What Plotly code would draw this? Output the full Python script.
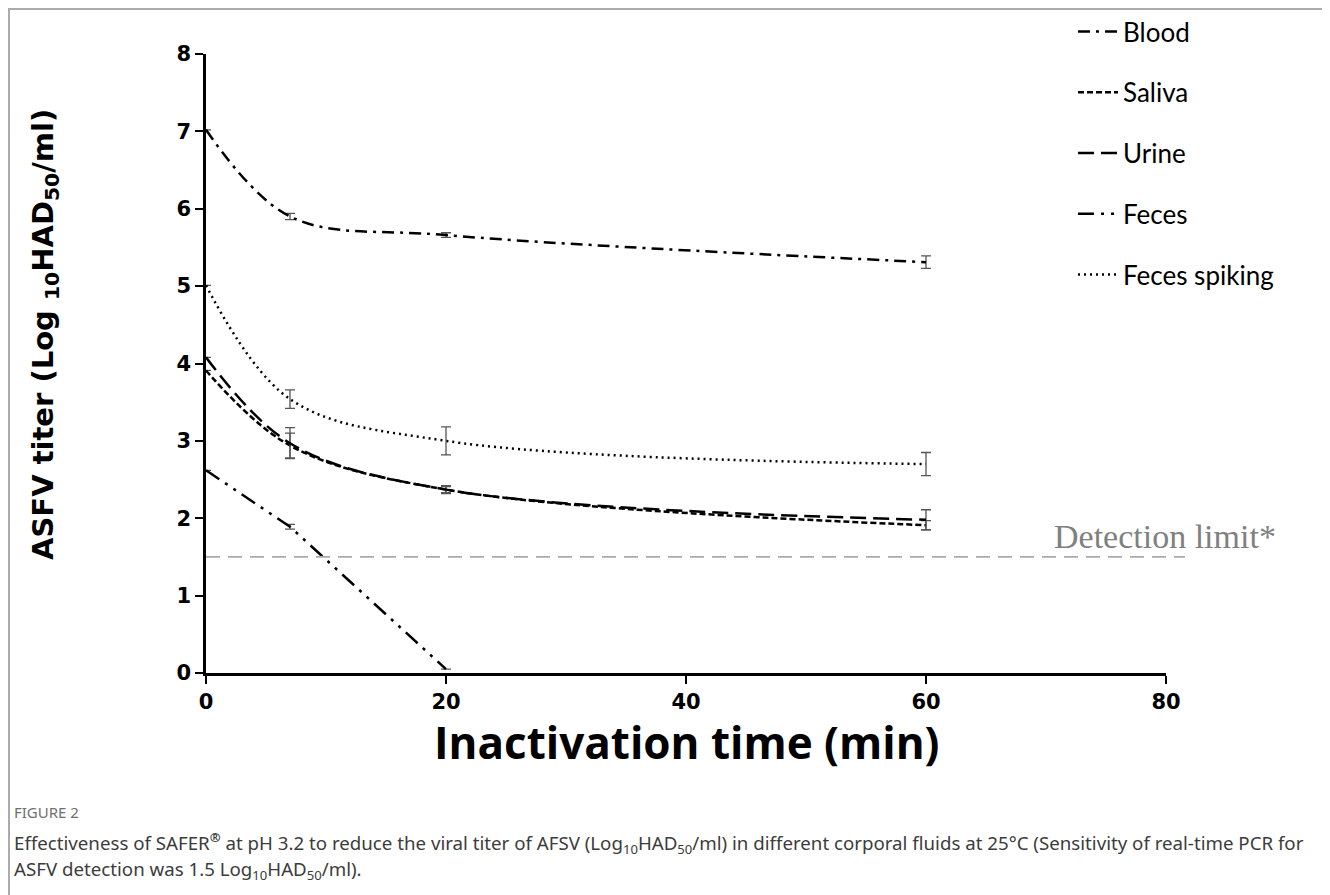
import plotly.graph_objects as go

# ---------------- data ----------------
time_min = [0, 7, 20, 60]
blood = [7.02, 5.90, 5.66, 5.31]
blood_err = [None, 0.04, 0.03, 0.08]
saliva = [3.91, 2.94, 2.37, 1.91]
saliva_err = [None, 0.16, 0.05, 0.06]
urine = [4.08, 2.97, 2.37, 1.98]
urine_err = [None, 0.20, 0.04, 0.13]
feces_time = [0, 7, 20]
feces = [2.62, 1.89, 0.05]
feces_err = [None, 0.03, None]
spiking = [5.01, 3.54, 3.00, 2.70]
spiking_err = [None, 0.12, 0.18, 0.15]
detection_limit = 1.5
x_ticks = [0, 20, 40, 60, 80]
y_ticks = [0, 1, 2, 3, 4, 5, 6, 7, 8]

# ---------------- layout geometry ----------------
# page body has an 8px margin, so the figure is drawn 8px in from the window edge
OFF = 8
W, H = 1322, 887
L, R, T, B = 198, 164, 46, 222
PW, PH = W - L - R, H - T - B


def px(x):  # window pixel -> paper x
    return (x - OFF - L) / PW


def py(y):  # window pixel -> paper y
    return (H - B - (y - OFF)) / PH


fig = go.Figure()

err_style = dict(type="data", color="#555555", thickness=1.3, width=5, visible=True)

series = [
    ("Blood", time_min, blood, blood_err, "12px,6px,3px,6px"),
    ("Saliva", time_min, saliva, saliva_err, "6px,3px"),
    ("Urine", time_min, urine, urine_err, "16px,7px"),
    ("Feces", feces_time, feces, feces_err, "16px,7px,3px,7px,3px,7px"),
    ("Feces spiking", time_min, spiking, spiking_err, "2px,4px"),
]

for i, (name, xs, ys, es, dash) in enumerate(series):
    fig.add_trace(go.Scatter(
        x=xs, y=ys, name=name, mode="lines",
        line=dict(color="black", width=2.5, dash=dash,
                  shape="linear" if name == "Feces" else "spline", smoothing=1.0),
        error_y=dict(array=es, **err_style),
        legendgroup=f"g{i}",
    ))

axis_common = dict(
    showgrid=False, zeroline=False, showline=True, linecolor="black", linewidth=2.5,
    ticks="outside", ticklen=8, tickwidth=2, tickcolor="black",
    tickfont=dict(family="DejaVu Sans", size=21, color="black", weight="bold"),
)

fig.update_layout(
    width=W, height=H,
    margin=dict(l=L, r=R, t=T, b=B, autoexpand=False),
    paper_bgcolor="white", plot_bgcolor="white",
    xaxis=dict(range=[0, 80], tickvals=x_ticks, **axis_common),
    yaxis=dict(range=[0, 8], tickvals=y_ticks, **axis_common),
    showlegend=True,
    legend=dict(
        x=px(1073), y=py(8), xanchor="left", yanchor="top",
        font=dict(family="Lato", size=26, color="black"),
        bgcolor="rgba(0,0,0,0)", tracegroupgap=24, itemwidth=40,
    ),
)

# detection limit line
fig.add_shape(type="line", xref="paper", yref="paper",
              x0=0, x1=px(1185), y0=detection_limit / 8, y1=detection_limit / 8,
              line=dict(color="#aaaaaa", width=1.8, dash="14px,8px"))

# outer frame
fig.add_shape(type="rect", xref="paper", yref="paper",
              x0=px(9), x1=px(1328), y0=py(905), y1=py(9),
              line=dict(color="#ababab", width=2))

ann = []
ann.append(dict(text="Detection limit*", xref="paper", yref="paper",
                x=px(1052), y=py(536), xanchor="left", yanchor="middle",
                showarrow=False, font=dict(family="Liberation Serif", size=34, color="#808080")))
ann.append(dict(text="ASFV titer (Log <sub>10</sub>HAD<sub>50</sub>/ml)", textangle=-90,
                xref="paper", yref="paper", x=px(45), y=py(335),
                xanchor="center", yanchor="middle", showarrow=False,
                font=dict(family="DejaVu Sans", size=29, color="black", weight="bold")))
ann.append(dict(text="Inactivation time (min)", xref="paper", yref="paper",
                x=px(686), y=py(742), xanchor="center", yanchor="middle", showarrow=False,
                font=dict(family="Open Sans", size=44, color="black", weight="bold")))
ann.append(dict(text="FIGURE 2", xref="paper", yref="paper",
                x=px(12), y=py(812), xanchor="left", yanchor="middle", showarrow=False,
                font=dict(family="Noto Sans", size=15, color="#707070")))
ann.append(dict(text="Effectiveness of SAFER<sup><b>®</b></sup> at pH 3.2 to reduce the viral titer of AFSV "
                     "(Log<sub>10</sub>HAD<sub>50</sub>/ml) in different corporal fluids at 25°C "
                     "(Sensitivity of real-time PCR for",
                xref="paper", yref="paper", x=px(12), y=py(843), xanchor="left", yanchor="middle",
                showarrow=False, font=dict(family="Noto Sans", size=18.7, color="#3c3c3c")))
ann.append(dict(text="ASFV detection was 1.5 Log<sub>10</sub>HAD<sub>50</sub>/ml).",
                xref="paper", yref="paper", x=px(12), y=py(870), xanchor="left", yanchor="middle",
                showarrow=False, font=dict(family="Noto Sans", size=18.7, color="#3c3c3c")))
fig.update_layout(annotations=ann)

fig.write_html("out.html")
